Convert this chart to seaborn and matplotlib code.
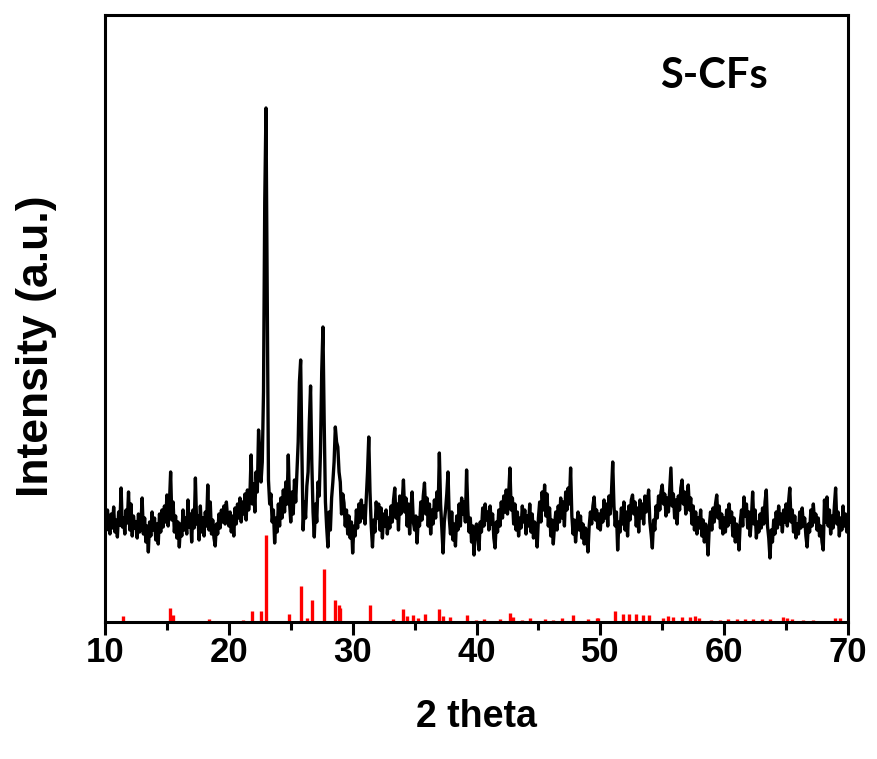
import numpy as np
import pandas as pd
import matplotlib
matplotlib.use("Agg")
import matplotlib.pyplot as plt
import seaborn as sns

# ---- data (intensity in arbitrary units) ----
two_theta_start = 10.0
two_theta_step = 0.1

seg_10_20 = [105, 92, 112, 96, 88, 108, 94, 115, 90, 102,
             85, 110, 97, 134, 95, 104, 88, 112, 99, 130,
             92, 118, 86, 106, 94, 100, 84, 108, 90, 98,
             124, 88, 104, 80, 96, 70, 100, 86, 110, 92,
             104, 82, 98, 78, 108, 90, 112, 95, 116, 100,
             127, 96, 118, 150, 102, 120, 90, 106, 84, 100,
             75, 98, 86, 112, 92, 104, 88, 122, 95, 108,
             80, 112, 94, 144, 98, 106, 82, 116, 90, 104,
             86, 110, 96, 137, 92, 120, 88, 102, 84, 76,
             98, 88, 108, 94, 112, 100, 116, 98, 120, 104]
seg_20_30 = [96, 110, 90, 106, 86, 114, 98, 118, 104, 124,
             100, 120, 108, 128, 102, 132, 112, 126, 167, 118,
             138, 110, 150, 130, 192, 170, 140, 160, 230, 420,
             514, 330, 142, 118, 128, 100, 112, 79, 104, 90,
             118, 96, 124, 104, 132, 110, 140, 118, 167, 120,
             100, 130, 108, 142, 120, 150, 180, 240, 262, 170,
             92, 120, 104, 136, 150, 200, 236, 160, 110, 85,
             118, 100, 140, 126, 170, 250, 295, 200, 120, 95,
             75, 110, 92, 124, 140, 160, 195, 180, 175, 150,
             140, 108, 128, 119, 96, 112, 88, 106, 84, 100]
seg_30_40 = [69, 96, 86, 112, 94, 118, 100, 122, 104, 116,
             98, 124, 150, 185, 130, 96, 75, 102, 90, 120,
             104, 118, 92, 114, 84, 108, 96, 112, 88, 104,
             94, 116, 100, 122, 134, 104, 118, 92, 126, 108,
             120, 142, 110, 124, 96, 118, 88, 112, 130, 100,
             92, 106, 79, 104, 96, 120, 102, 126, 139, 108,
             124, 96, 118, 88, 112, 98, 122, 104, 130, 112,
             169, 118, 94, 69, 100, 112, 128, 150, 104, 88,
             110, 82, 98, 76, 106, 92, 118, 96, 124, 108,
             120, 100, 152, 112, 90, 104, 80, 96, 67, 92]
seg_40_50 = [98, 86, 72, 100, 90, 114, 96, 118, 102, 110,
             92, 116, 98, 108, 84, 74, 100, 90, 112, 96,
             120, 104, 126, 110, 132, 108, 128, 154, 112, 124,
             98, 118, 92, 110, 86, 104, 94, 116, 100, 112,
             88, 106, 96, 118, 90, 108, 84, 100, 92, 75,
             104, 120, 100, 130, 112, 137, 106, 128, 96, 114,
             86, 102, 78, 96, 110, 92, 116, 100, 124, 104,
             120, 96, 130, 112, 134, 118, 154, 106, 88, 102,
             80, 96, 110, 92, 106, 84, 98, 78, 94, 86,
             70, 96, 110, 98, 116, 125, 102, 112, 94, 108]
seg_50_60 = [92, 112, 100, 122, 104, 118, 96, 126, 108, 130,
             160, 116, 96, 110, 72, 100, 90, 114, 98, 120,
             92, 110, 86, 116, 102, 122, 127, 108, 120, 96,
             114, 90, 122, 104, 118, 98, 126, 110, 120, 132,
             100, 88, 74, 102, 92, 116, 104, 126, 112, 130,
             137, 118, 128, 106, 124, 110, 132, 154, 116, 128,
             104, 122, 98, 126, 112, 134, 142, 118, 130, 108,
             126, 137, 112, 124, 98, 116, 92, 110, 88, 104,
             94, 112, 86, 102, 80, 98, 88, 67, 96, 110,
             92, 114, 100, 118, 127, 104, 116, 94, 108, 88]
seg_60_70 = [104, 90, 112, 96, 118, 100, 110, 86, 104, 80,
             98, 88, 72, 100, 112, 96, 125, 106, 118, 94,
             110, 86, 104, 130, 98, 112, 84, 100, 90, 108,
             94, 114, 98, 120, 132, 96, 84, 64, 92, 80,
             102, 88, 110, 94, 116, 98, 108, 90, 112, 100,
             118, 96, 120, 134, 100, 112, 90, 106, 84, 98,
             88, 110, 94, 114, 96, 104, 86, 75, 98, 90,
             112, 96, 118, 100, 108, 92, 104, 86, 96, 80,
             72, 122, 100, 125, 96, 112, 88, 106, 94, 116,
             134, 98, 110, 86, 104, 92, 116, 96, 108, 90, 104]

# reference (red) stick pattern
ref_positions = [11.43, 15.25, 15.5, 18.43, 21.17, 21.85, 22.63, 23.0, 24.89,
                 25.83, 26.29, 26.69, 27.69, 28.6, 28.87, 28.98, 31.4, 33.29,
                 34.04, 34.37, 34.85, 35.31, 35.85, 37.0, 37.33, 37.87, 39.21,
                 39.97, 40.61, 41.9, 42.71, 42.98, 43.66, 44.33, 45.54, 46.21,
                 46.89, 47.83, 49.04, 49.72, 49.85, 51.2, 51.87, 52.35, 52.89,
                 53.43, 53.97, 55.05, 55.5, 55.86, 56.58, 57.25, 57.66, 57.93,
                 58.93, 59.68, 60.3, 61.05, 61.7, 62.34, 63.07, 63.72, 64.74,
                 65.06, 65.47, 66.38, 67.19, 68.97, 69.37]
ref_heights = [6, 14, 7, 3, 2, 11, 11, 87, 8,
               36, 4, 22, 53, 22, 17, 14, 17, 3,
               13, 6, 7, 4, 8, 13, 6, 5, 7,
               2, 3, 3, 9, 5, 2, 4, 3, 2,
               4, 7, 3, 4, 4, 11, 8, 8, 8,
               7, 7, 4, 6, 5, 5, 5, 6, 4,
               2, 2, 3, 3, 3, 3, 3, 3, 5,
               4, 3, 2, 2, 4, 4]

x_ticks = [10, 20, 30, 40, 50, 60, 70]
x_minor_ticks = [15, 25, 35, 45, 55, 65]
x_label = "2 theta"
y_label = "Intensity (a.u.)"
sample_label = "S-CFs"

# ---- build table ----
intensity = seg_10_20 + seg_20_30 + seg_30_40 + seg_40_50 + seg_50_60 + seg_60_70
two_theta = np.round(two_theta_start + two_theta_step * np.arange(len(intensity)), 2)
df = pd.DataFrame({"two_theta": two_theta, "intensity": intensity})

# ---- plot ----
sns.set_theme(style="white")
plt.rcParams["font.family"] = ["Liberation Sans", "DejaVu Sans"]
plt.rcParams["text.color"] = "black"
plt.rcParams["axes.labelcolor"] = "black"
plt.rcParams["xtick.color"] = "black"
plt.rcParams["ytick.color"] = "black"

fig = plt.figure(figsize=(8.77, 7.59), dpi=100)
ax = fig.add_axes([105 / 877, 1 - 622 / 759, (848 - 105) / 877, (622 - 15) / 759])

sns.lineplot(data=df, x="two_theta", y="intensity", ax=ax, color="black",
             linewidth=2.4, estimator=None, sort=False)
ax.vlines(ref_positions, 0, ref_heights, colors="#ff0000", linewidth=2.4)

ax.set_xlim(10, 70)
ax.set_ylim(0, 607)
ax.set_xticks(x_ticks)
ax.set_xticks(x_minor_ticks, minor=True)
ax.set_yticks([])
ax.tick_params(axis="x", which="major", direction="out", length=9, width=2.2,
               labelsize=25, pad=1, bottom=True, colors="black")
ax.tick_params(axis="x", which="minor", direction="out", length=5.5, width=2.2,
               bottom=True)
for lab in ax.get_xticklabels():
    lab.set_fontweight("bold")
for sp in ax.spines.values():
    sp.set_visible(True)
    sp.set_linewidth(2.2)
    sp.set_color("black")

ax.set_xlabel(x_label, fontsize=27, fontweight="bold", labelpad=22)
ax.set_ylabel(y_label, fontsize=32, fontweight="bold")
ax.yaxis.set_label_coords(-0.064, 0.455)
ax.text(0.82, 0.899, sample_label, transform=ax.transAxes, ha="center", va="center",
        fontsize=30, fontweight="bold", family=["Lato", "DejaVu Sans"])

fig.savefig("out.png", dpi=100)
